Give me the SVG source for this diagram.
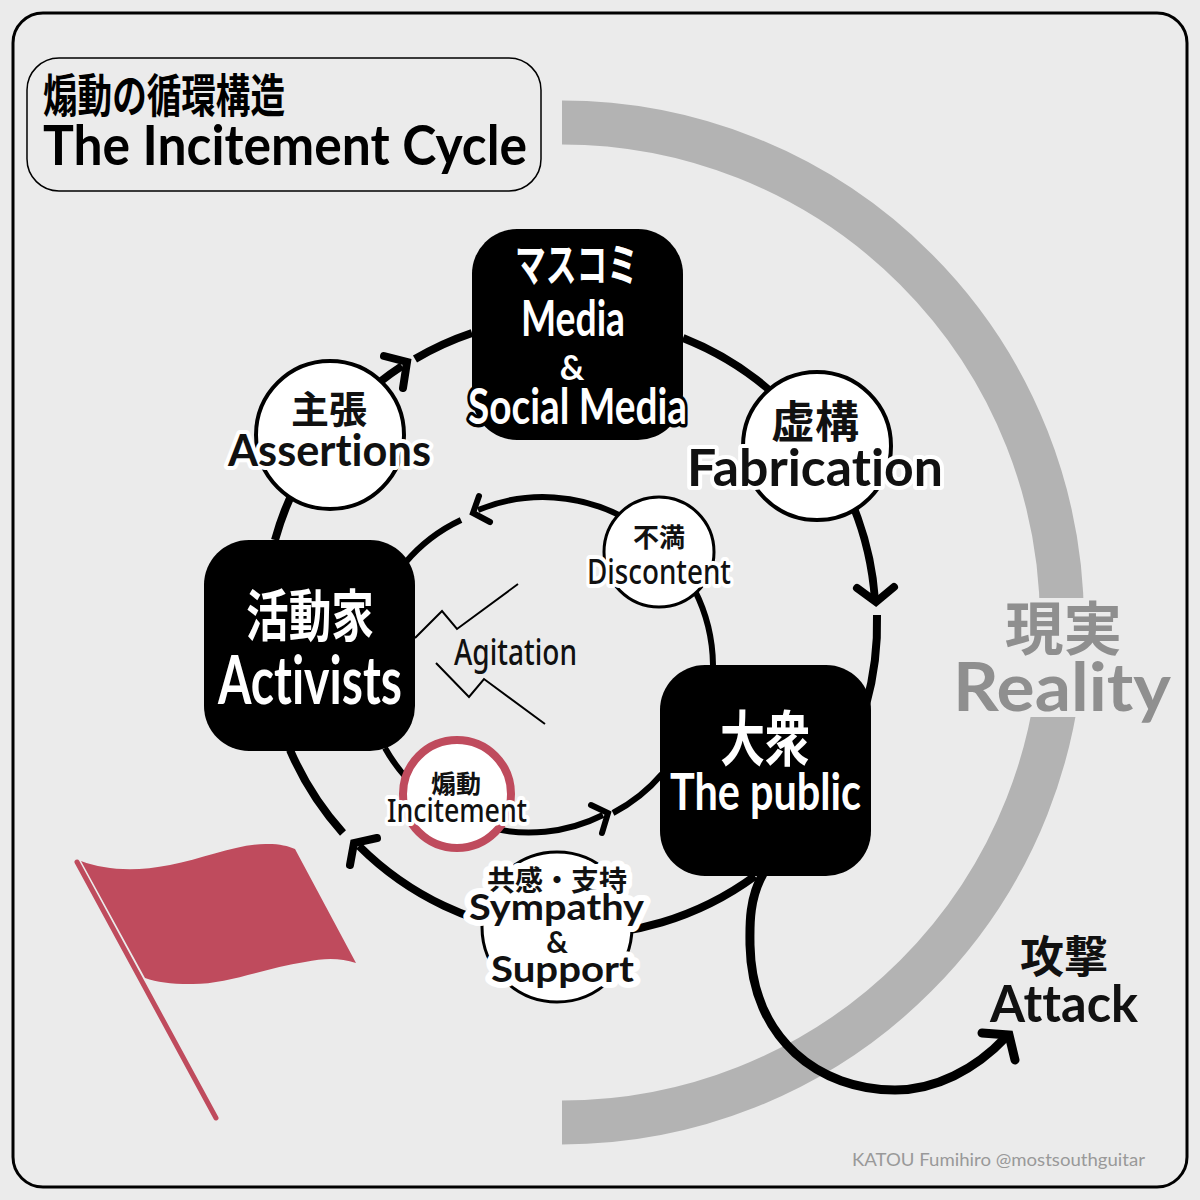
<svg xmlns="http://www.w3.org/2000/svg" width="1200" height="1200" viewBox="0 0 1200 1200">
<style>
text{font-family:"Lato","Open Sans","Noto Sans CJK JP",sans-serif;font-weight:700;font-variant-ligatures:none}
.jp{font-family:"Noto Sans CJK JP","Noto Sans",sans-serif;font-weight:700}
.med{font-family:"Noto Sans","Open Sans",sans-serif;font-weight:500}
.box{fill:#000}
.w{fill:#fff}
.wh{fill:#fff;stroke:#000;stroke-width:7;paint-order:stroke;stroke-linejoin:round}
.k{fill:#111;stroke:#fff;stroke-width:8;paint-order:stroke;stroke-linejoin:round}
.sy{stroke-width:12}
.j{fill:#111}
.bub{fill:#fff;stroke:#000;stroke-width:4}
.big{fill:none;stroke:#000;stroke-width:8}
.mid{fill:none;stroke:#000;stroke-width:6}
.head{fill:none;stroke:#000;stroke-width:8;stroke-linecap:round}
.headm{fill:none;stroke:#000;stroke-width:6;stroke-linecap:round}
.thin{fill:none;stroke:#000;stroke-width:2}
.gray{fill:#8f8f8f}
</style>
<rect width="1200" height="1200" fill="#ebebeb"/>
<rect id="frame" x="13" y="13" width="1174" height="1174" rx="30" fill="#ebebeb" stroke="#000" stroke-width="3"/>
<path id="reality-arc" d="M562 122.500A500 500 0 0 1 562 1122.500" fill="none" stroke="#b3b3b3" stroke-width="44"/>
<rect id="reality-gap" x="1030" y="598" width="80" height="119" fill="#ebebeb"/>
<g id="connectors">
<path class="big" d="M275 540A305 305 0 0 1 402 366"/>
<path class="head" d="M384 356L407 362L403 388"/>
<path class="big" d="M415 359A305 305 0 0 1 472 333"/>
<path class="big" d="M683 338A305 305 0 0 1 875 600"/>
<path class="head" d="M857 588L876 602L894 587"/>
<path class="big" d="M877 615A305 305 0 0 1 866 705"/>
<path class="big" d="M755 876A305 305 0 0 1 359 846"/>
<path class="head" d="M377 838L354 843L350 865"/>
<path class="big" d="M343 833A305 305 0 0 1 290 750"/>
<path class="mid" d="M713 665A170 170 0 0 0 478 510"/>
<path class="headm" d="M479 496L473 513L490 522"/>
<path class="mid" d="M461 520A165 165 0 0 0 405 563"/>
<path class="mid" d="M385 748A165 165 0 0 0 603 815"/>
<path class="headm" d="M591 805L608 813L602 833"/>
<path class="mid" d="M613 813A165 165 0 0 0 662 774"/>
<path class="big" d="M763 874C748 900 750 930 750 945C752 1040 820 1090 895 1090C935 1090 975 1070 1006 1037" style="stroke-width:9"/>
<path class="head" d="M982 1033L1009 1035L1015 1060" style="stroke-width:9"/>
<path class="thin" d="M415 638L442 611L457 629L518 584"/>
<path class="thin" d="M436 663L469 697L484 679L545 724"/>
</g>
<g id="title">
<rect x="27" y="58" width="514" height="133" rx="32" fill="#ebebeb" stroke="#000" stroke-width="1.500"/>
<text class="jp" x="43" y="112" font-size="46" textLength="242" lengthAdjust="spacingAndGlyphs">煽動の循環構造</text>
<text x="43" y="165" font-size="56" textLength="484" lengthAdjust="spacingAndGlyphs">The Incitement Cycle</text>
</g>
<g id="node-media">
<rect class="box" x="472" y="229" width="211" height="211" rx="45"/>
<text class="jp w" x="515" y="281" font-size="46" textLength="123" lengthAdjust="spacingAndGlyphs">マスコミ</text>
<text class="w" x="521" y="336" font-size="50" textLength="104" lengthAdjust="spacingAndGlyphs">Media</text>
<text class="w" x="572" y="380" font-size="34" text-anchor="middle">&amp;</text>
<text class="wh" x="468" y="424" font-size="50" textLength="219" lengthAdjust="spacingAndGlyphs">Social Media</text>
</g>
<g id="node-activists">
<rect class="box" x="204" y="540" width="211" height="211" rx="45"/>
<text class="jp w" x="246" y="636" font-size="56" textLength="128" lengthAdjust="spacingAndGlyphs">活動家</text>
<text class="w" x="218" y="704" font-size="66" textLength="184" lengthAdjust="spacingAndGlyphs">Activists</text>
</g>
<g id="node-public">
<rect class="box" x="660" y="665" width="211" height="211" rx="45"/>
<text class="jp w" x="720" y="761" font-size="60" textLength="90" lengthAdjust="spacingAndGlyphs">大衆</text>
<text class="w" x="670" y="810" font-size="52" textLength="191" lengthAdjust="spacingAndGlyphs">The public</text>
</g>
<g id="node-assertions">
<circle class="bub" cx="330" cy="435" r="74"/>
<text class="jp j" x="291" y="423" font-size="38">主張</text>
<text class="k" x="228" y="466" font-size="44" textLength="203" lengthAdjust="spacingAndGlyphs">Assertions</text>
</g>
<g id="node-fabrication">
<circle class="bub" cx="817" cy="446" r="74"/>
<text class="jp j" x="771" y="438" font-size="44">虚構</text>
<text class="k" x="687" y="486" font-size="52" textLength="256" lengthAdjust="spacingAndGlyphs">Fabrication</text>
</g>
<g id="node-discontent">
<circle class="bub" cx="659" cy="552" r="55" style="stroke-width:3"/>
<text class="jp j" x="633" y="547" font-size="26">不満</text>
<text class="k med" x="587" y="584" font-size="34" textLength="144" lengthAdjust="spacingAndGlyphs">Discontent</text>
</g>
<g id="node-incitement">
<circle cx="457" cy="794" r="54" fill="#fff" stroke="#bf4b5d" stroke-width="8"/>
<text class="jp j" x="431" y="793" font-size="25">煽動</text>
<text class="k med" x="387" y="822" font-size="33" textLength="140" lengthAdjust="spacingAndGlyphs">Incitement</text>
</g>
<g id="node-sympathy">
<circle class="bub" cx="557" cy="927" r="75" style="stroke-width:3"/>
<text class="jp k sy" x="487" y="891" font-size="28" textLength="140" lengthAdjust="spacingAndGlyphs">共感・支持</text>
<text class="k sy" x="469" y="920" font-size="36" textLength="175" lengthAdjust="spacingAndGlyphs">Sympathy</text>
<text class="k sy" x="557" y="953" font-size="30" text-anchor="middle">&amp;</text>
<text class="k sy" x="491" y="982" font-size="36" textLength="143" lengthAdjust="spacingAndGlyphs">Support</text>
</g>
<text id="agitation" class="med" x="454" y="665" font-size="36" fill="#111" textLength="123" lengthAdjust="spacingAndGlyphs">Agitation</text>
<g id="reality-label">
<text class="jp gray" x="1005" y="650" font-size="58" textLength="117" lengthAdjust="spacingAndGlyphs">現実</text>
<text class="gray" x="953" y="711" font-size="66" textLength="218" lengthAdjust="spacingAndGlyphs">Reality</text>
</g>
<g id="attack-label">
<text class="jp j" x="1020" y="973" font-size="44">攻撃</text>
<text x="990" y="1022" font-size="52" fill="#111" textLength="148" lengthAdjust="spacingAndGlyphs">Attack</text>
</g>
<g id="flag" fill="#bf4b5d">
<path d="M81 861C105 870 135 872 170 865C205 858 240 843 268 844C280 844 288 846 295 849L356 963C340 958 325 958 305 962C265 968 225 985 190 984C170 984 157 982 145 978Z"/>
<path d="M77 862L216 1118" fill="none" stroke="#bf4b5d" stroke-width="5" stroke-linecap="round"/>
</g>
<text id="credit" x="852" y="1166" font-size="17" fill="#999" textLength="293" lengthAdjust="spacingAndGlyphs" style="font-weight:400">KATOU Fumihiro @mostsouthguitar</text>
</svg>
